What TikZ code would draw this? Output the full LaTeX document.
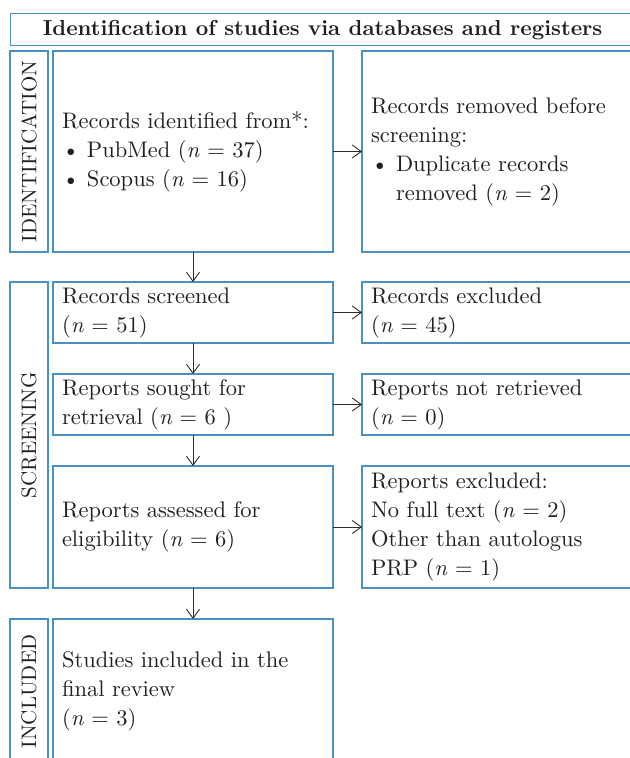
\documentclass[tikz,border=0pt]{standalone}
\usepackage{fontspec}
\setmainfont{lmroman10}[Extension=.otf, UprightFont=*-regular, BoldFont=*-bold, ItalicFont=*-italic]
\usepackage{tikz}
\usetikzlibrary{arrows.meta,positioning}

\definecolor{prismablue}{RGB}{74,144,196}
\definecolor{arrowgray}{RGB}{45,45,45}
\definecolor{inkblack}{RGB}{35,31,32}

\tikzset{
	flowbox/.style={rectangle, draw=prismablue, line width=1.3bp, anchor=north west, align=left, text width=262bp, inner xsep=9bp, inner ysep=0bp, outer sep=0bp, text=inkblack, font=\fontsize{22.5bp}{29bp}\selectfont},
	stagebox/.style={rectangle, draw=prismablue, line width=1.3bp, rotate=90, minimum height=38bp, inner sep=0bp, outer sep=0bp, text=inkblack, font=\fontsize{21bp}{25bp}\selectfont},
	titlebox/.style={rectangle, draw=prismablue, line width=1.3bp, anchor=north west, minimum width=624bp, minimum height=32bp, inner sep=0bp, text=inkblack, font=\fontsize{21.7bp}{26bp}\selectfont\bfseries},
	flowarrow/.style={draw=arrowgray, line width=0.9bp, -{Straight Barb[length=9bp,width=13bp]}}
}

\begin{document}
\begin{tikzpicture}[x=1bp, y=-1bp]
		\useasboundingbox (0,0) rectangle (630,758);
		
		\node[titlebox] (title) at (10,13) {Identification of studies via databases and registers};
		
		\node[flowbox, minimum height=201bp] (idmain) at (53,51) {Records identified from*:\\ \textbullet\ PubMed (\textit{n} = 37)\\ \textbullet\ Scopus (\textit{n} = 16)};
		\node[flowbox, text width=254bp, minimum height=201bp] (idremoved) [right=29bp of idmain] {Records removed before\\ screening:\\ \textbullet\ Duplicate records\\ \hphantom{\textbullet\ }removed (\textit{n} = 2)};
		
		\node[flowbox, minimum height=61bp] (screened) [below=30bp of idmain] {Records screened\\ (\textit{n} = 51)};
		\node[flowbox, text width=254bp, minimum height=61bp] (excluded) [right=29bp of screened] {Records excluded\\ (\textit{n} = 45)};
		\node[flowbox, minimum height=61bp] (sought) [below=31bp of screened] {Reports sought for\\ retrieval (\textit{n} = 6 )};
		\node[flowbox, text width=254bp, minimum height=61bp] (notretrieved) [right=29bp of sought] {Reports not retrieved\\ (\textit{n} = 0)};
		\node[flowbox, minimum height=122bp] (assessed) [below=31bp of sought] {Reports assessed for\\ eligibility (\textit{n} = 6)};
		\node[flowbox, text width=254bp, minimum height=122bp] (repexcluded) [right=29bp of assessed] {Reports excluded:\\ No full text (\textit{n} = 2)\\ Other than autologus\\ PRP (\textit{n} = 1)};
		
		\node[flowbox, minimum height=145bp] (included) [below=31bp of assessed] {Studies included in the\\ final review\\ (\textit{n} = 3)};
		
		\node[stagebox, minimum width=201bp] (idstage) at (29,151.5) {IDENTIFICATION};
		\node[stagebox, minimum width=306bp] (scrstage) at (29,435) {SCREENING};
		\node[stagebox, minimum width=145bp] (incstage) at (29,691.5) {INCLUDED};
		
		\draw[flowarrow] (idmain) -- (idremoved);
		\draw[flowarrow] (screened) -- (excluded);
		\draw[flowarrow] (sought) -- (notretrieved);
		\draw[flowarrow] (assessed) -- (repexcluded);
		\draw[flowarrow] (idmain) -- (screened);
		\draw[flowarrow] (screened) -- (sought);
		\draw[flowarrow] (sought) -- (assessed);
		\draw[flowarrow] (assessed) -- (included);
	\end{tikzpicture}
\end{document}
